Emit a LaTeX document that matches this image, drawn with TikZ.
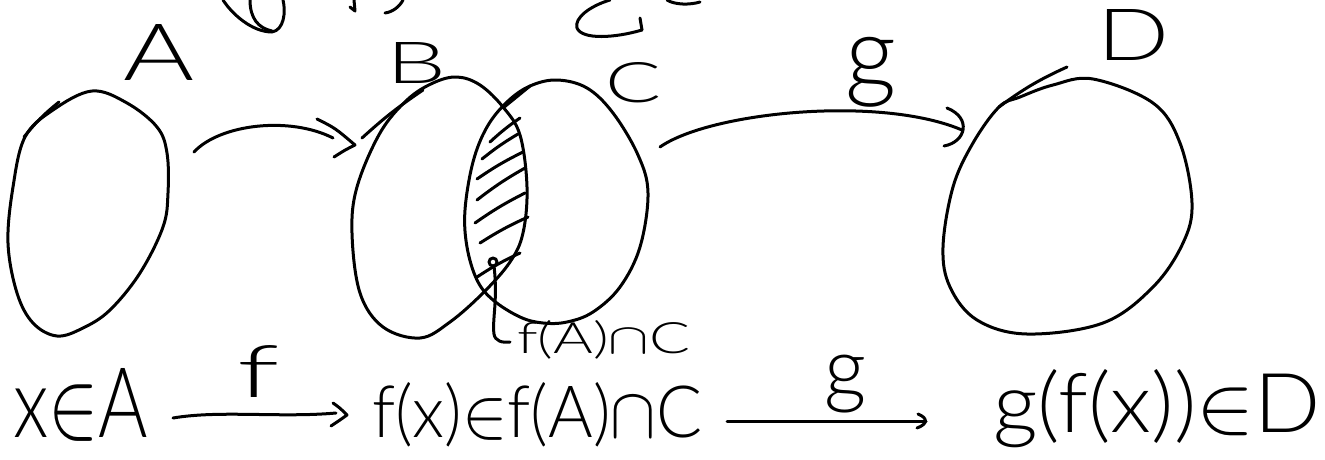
\documentclass[tikz,border=0pt]{standalone}
\usepackage{fontspec}
\usepackage{graphicx}
\newfontfamily\hand{Lato Light}
\newcommand{\hw}[3]{\resizebox{#1}{#2}{\hand #3}}
\newcommand{\hwt}[3]{\resizebox*{#1}{#2}{\hand #3}}
\tikzset{
  pen/.style={line width=3pt, line cap=round, line join=round, black},
  lbl/.style={inner sep=0pt, outer sep=0pt},
}
\begin{document}
\begin{tikzpicture}[x=1pt,y=-1pt]
\useasboundingbox (0,0) rectangle (1325,459);
\fill[white] (0,0) rectangle (1325,459);

% ---- sets ----
\draw[pen] plot[smooth cycle, tension=0.6] coordinates {(25,137) (53,110) (92,91) (127,103) (157,127) (167,153) (168,193) (163,227) (140,273) (110,310) (83,328) (57,336) (33,323) (17,293) (8,243) (13,187)};
\draw[pen] plot[smooth cycle, tension=0.6] coordinates {(457,77) (480,85) (503,107) (520,135) (527,187) (523,233) (510,262) (483,293) (450,322) (420,338) (383,327) (360,293) (352,233) (357,187) (380,133) (407,100) (433,83)};
\draw[pen] plot[smooth cycle, tension=0.6] coordinates {(557,80) (587,88) (613,113) (638,155) (648,193) (640,247) (620,287) (593,312) (567,322) (543,323) (520,317) (493,300) (477,280) (467,247) (465,210) (473,162) (487,127) (507,102) (530,86)};
\draw[pen] plot[smooth cycle, tension=0.6] coordinates {(1093,79) (1153,103) (1180,143) (1192,203) (1183,243) (1153,287) (1103,323) (1027,334) (977,320) (950,287) (943,247) (953,187) (973,143) (999,107) (1020,97) (1053,85)};

% pen-start ticks
\draw[pen] (24,137) to[bend left=6] (59,102);
\draw[pen] (362,138) to[bend left=4] (423,90);
\draw[pen] (503,108) -- (530,86);
\draw[pen] (999,107) to[bend left=6] (1067,67);

% hatching of the intersection
\foreach \ax/\ay/\bx/\by in {490/142/520/118, 482/159/518/134, 477/179/523/152, 477/200/525/168, 475/223/525/193, 480/243/528/217, 477/277/520/253}
  \draw[pen] (\ax,\ay) to[bend left=4] (\bx,\by);

% leader to label f(A)∩C
\draw[pen] (493,262) circle[radius=4];
\coordinate (lead) at (510,342);
\draw[pen] (494,266) .. controls (498,300) and (492,320) .. (494,334) .. controls (495,341) and (502,343) .. (lead);
\node[lbl, anchor=base west] (fac) at (517,353) {\hw{173pt}{33pt}{f(A)$\cap$C}};

% ---- labels of the sets ----
\node[lbl, anchor=base west] (lA) at (123,80) {\hw{71pt}{56pt}{A}};
\node[lbl, anchor=base west] (lB) at (386,83) {\hw{60pt}{41pt}{B}};
\node[lbl, anchor=base west] (lC) at (605,102) {\hw{56pt}{40pt}{C}};
\node[lbl, anchor=base west] (lD) at (1097,60) {\hw{72pt}{51pt}{D}};

% ---- arrows between sets ----
\coordinate (a1s) at (194,152);
\coordinate (a1e) at (333,138);
\draw[pen] (a1s) .. controls (220,124) and (290,116) .. (a1e);
\draw[pen] (317,119) .. controls (335,128) .. (355,145) .. controls (345,150) .. (334,157);

\coordinate (a2s) at (660,147);
\coordinate (a2e) at (962,130);
\draw[pen] (a2s) .. controls (710,112) and (880,95) .. (a2e);
\draw[pen] (947,108) .. controls (972,118) and (966,142) .. (944,146);
\node[lbl, anchor=north west] (gtop) at (845,37) {\hwt{51pt}{70pt}{g}};

% ---- bottom line ----
\node[lbl, anchor=base west] (n1) at (13,437) {\hw{135pt}{69pt}{x$\in$A}};
\node[lbl, anchor=base west] (n2) at (372,437) {\hw{330pt}{55pt}{f(x)$\in$f(A)$\cap$C}};
\node[lbl, anchor=base west] (n3) at (993,432) {\hw{328pt}{63pt}{g(f(x))$\in$D}};

\coordinate (b1s) at (173,418);
\coordinate (b1e) at (336,413);
\draw[pen] (b1s) .. controls (220,410) and (280,418) .. (b1e);
\draw[pen] (333,403) .. controls (340,408) .. (347,415) .. controls (340,420) .. (331,426);
\node[lbl, anchor=north west] (fb) at (237,345) {\hwt{42pt}{52pt}{f}};

\coordinate (b2s) at (727,421);
\coordinate (b2e) at (926,421);
\draw[pen] (b2s) -- (b2e);
\draw[pen] (918,414) .. controls (928,418) and (928,424) .. (917,428);
\node[lbl, anchor=north west] (gb) at (824,355) {\hwt{42pt}{58pt}{g}};

% ---- cut-off strokes at the top edge ----
\draw[pen] (223,0) .. controls (232,14) and (252,32) .. (272,32) .. controls (284,30) and (286,12) .. (283,0);
\draw[pen] (250,0) .. controls (250,18) and (258,28) .. (272,31);
\draw[pen] (354,0) -- (355,11) -- (350,7);
\draw[pen] (403,0) .. controls (400,6) and (393,12) .. (385,13);
\draw[pen] (610,0) .. controls (590,6) and (574,18) .. (577,28) .. controls (582,40) and (615,38) .. (642,30);
\draw[pen] (640,18) -- (642,30);
\draw[pen] (667,0) .. controls (675,5) and (690,5) .. (700,2);
\end{tikzpicture}
\end{document}
